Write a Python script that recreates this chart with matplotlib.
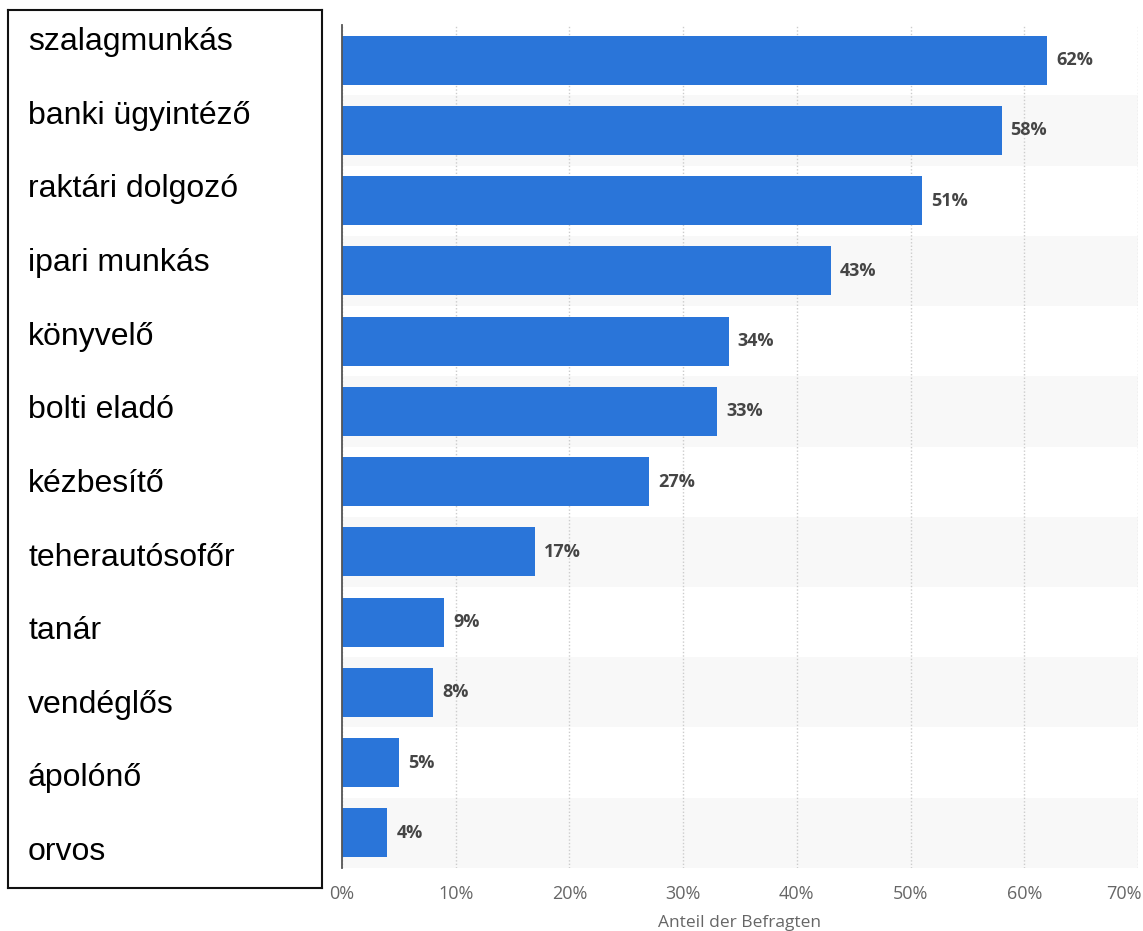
import matplotlib.pyplot as plt
import matplotlib.transforms as mtransforms

# data
jobs = ["szalagmunkás", "banki ügyintéző", "raktári dolgozó", "ipari munkás",
        "könyvelő", "bolti eladó", "kézbesítő", "teherautósofőr", "tanár",
        "vendéglős", "ápolónő", "orvos"]
shares = [62, 58, 51, 43, 34, 33, 27, 17, 9, 8, 5, 4]
ticks = [0, 10, 20, 30, 40, 50, 60, 70]
tick_labels = [f"{t}%" for t in ticks]

fig = plt.figure(figsize=(11.43, 9.31), dpi=100)

# bar chart
ax = fig.add_axes([0.2992, 0.0677, 0.6964, 0.9054])
n = len(jobs)
pos = list(range(n))
for i in pos:
    if i % 2 == 1:
        ax.axhspan(i - 0.5, i + 0.5, color="#f8f8f8", zorder=0, lw=0)
ax.barh(pos, shares, height=0.7, color="#2a75d9", zorder=3)
for i, v in zip(pos, shares):
    ax.text(v + 0.8, i, f"{v}%", va="center", ha="left", fontsize=13,
            fontweight="bold", color="#454545", family="Open Sans", zorder=4)

ax.set_ylim(n - 0.5, -0.5)
ax.set_xlim(0, 70)
ax.set_xticks(ticks)
ax.set_xticklabels(tick_labels, fontsize=13, color="#666666", family="Open Sans")
ax.set_yticks([])
ax.tick_params(axis="x", length=0, pad=12)
# keep the last tick label inside the picture
last = ax.get_xticklabels()[-1]
last.set_transform(last.get_transform() +
                   mtransforms.ScaledTranslation(-0.14, 0, fig.dpi_scale_trans))
ax.xaxis.grid(True, linestyle=(0, (1, 1.5)), color="#cccccc", lw=1, zorder=1)
ax.set_axisbelow(True)
for s in ["top", "right", "bottom"]:
    ax.spines[s].set_visible(False)
ax.spines["left"].set_color("#555555")
ax.spines["left"].set_linewidth(1.3)
ax.spines["left"].set_zorder(5)
ax.set_xlabel("Anteil der Befragten", fontsize=12.5, color="#666666",
              family="Open Sans", labelpad=9)

# label box on the left
lab = fig.add_axes([0.007, 0.0462, 0.2748, 0.9428])
lab.set_xlim(0, 1)
lab.set_ylim(0, 1)
lab.set_xticks([])
lab.set_yticks([])
for s in lab.spines.values():
    s.set_linewidth(1.5)
    s.set_color("#111111")
top_y = 1 - (42 - 10) / 878
bot_y = 1 - (852 - 10) / 878
step = (top_y - bot_y) / (n - 1)
for i, name in enumerate(jobs):
    lab.text(0.064, top_y - i * step, name, va="center", ha="left",
             fontsize=23, family="Liberation Sans", color="black")

fig.savefig("out.png", dpi=100)
